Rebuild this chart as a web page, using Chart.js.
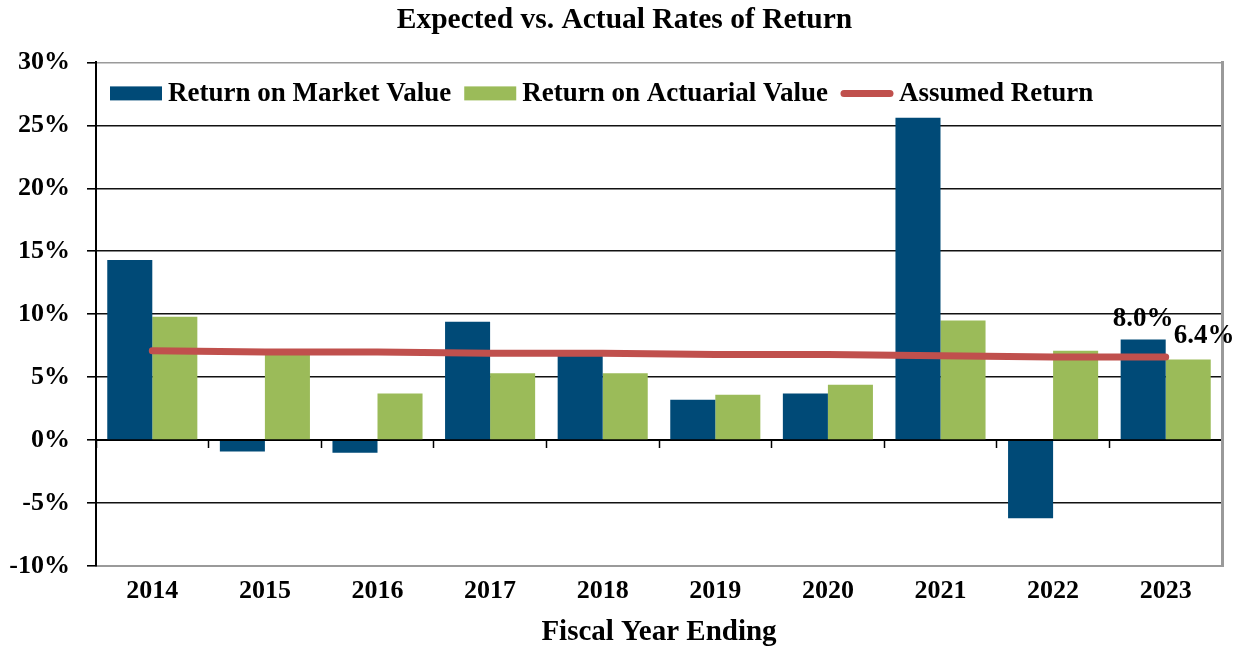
<!DOCTYPE html>
<html>
<head>
<meta charset="utf-8">
<script src="https://cdn.jsdelivr.net/npm/chart.js@4/dist/chart.umd.min.js"></script>
<style>
html,body{margin:0;padding:0;background:#fff;}
#wrap{width:1244px;height:650px;}
</style>
</head>
<body>
<div id="wrap"><canvas id="c" width="1244" height="650"></canvas></div>
<script>
const categories = ['2014','2015','2016','2017','2018','2019','2020','2021','2022','2023'];
const marketValue = [14.3, -0.9, -1.0, 9.4, 6.9, 3.2, 3.7, 25.6, -6.2, 8.0];
const actuarialValue = [9.8, 6.9, 3.7, 5.3, 5.3, 3.6, 4.4, 9.5, 7.1, 6.4];
const assumedReturn = [7.1, 7.0, 7.0, 6.9, 6.9, 6.8, 6.8, 6.7, 6.6, 6.6];
const yTicks = [-10, -5, 0, 5, 10, 15, 20, 25, 30];
const labelSeries = ['8.0%', '6.4%'];

const FONT = '"Liberation Serif", "Times New Roman", serif';
const BLUE = '#004A77';
const GREEN = '#9BBB59';
const RED = '#C0504D';

const endLabels = {
  id: 'endLabels',
  afterDatasetsDraw(chart) {
    const ctx = chart.ctx;
    ctx.save();
    ctx.font = 'bold 27px ' + FONT;
    ctx.fillStyle = '#000';
    ctx.textAlign = 'center';
    ctx.textBaseline = 'alphabetic';
    const last = categories.length - 1;
    const b0 = chart.getDatasetMeta(0).data[last];
    const b1 = chart.getDatasetMeta(1).data[last];
    ctx.fillText(labelSeries[0], b0.x, b0.y - 13);
    ctx.fillText(labelSeries[1], b1.x + 16, b1.y - 17);
    ctx.restore();
  }
};

const insideLegend = {
  id: 'insideLegend',
  afterDraw(chart) {
    const ctx = chart.ctx;
    const area = chart.chartArea;
    ctx.save();
    ctx.font = 'bold 27px ' + FONT;
    ctx.textBaseline = 'middle';
    ctx.textAlign = 'left';
    let x = area.left + 14;
    const y = area.top + 31;
    chart.data.datasets.forEach((ds) => {
      if (ds.type === 'line') {
        ctx.strokeStyle = ds.borderColor;
        ctx.lineWidth = 7;
        ctx.lineCap = 'round';
        ctx.beginPath();
        ctx.moveTo(x + 3, y);
        ctx.lineTo(x + 49, y);
        ctx.stroke();
      } else {
        ctx.fillStyle = ds.backgroundColor;
        ctx.fillRect(x, y - 7, 52, 14);
      }
      x += 58;
      ctx.fillStyle = '#000';
      ctx.fillText(ds.label, x, y + 1);
      x += ctx.measureText(ds.label).width + 13;
    });
    ctx.restore();
  }
};

new Chart(document.getElementById('c'), {
  data: {
    labels: categories,
    datasets: [
      { type: 'bar', label: 'Return on Market Value', data: marketValue, backgroundColor: BLUE, order: 1,
        categoryPercentage: 0.8, barPercentage: 1.0 },
      { type: 'bar', label: 'Return on Actuarial Value', data: actuarialValue, backgroundColor: GREEN, order: 1,
        categoryPercentage: 0.8, barPercentage: 1.0 },
      { type: 'line', label: 'Assumed Return', data: assumedReturn, borderColor: RED, backgroundColor: RED,
        borderWidth: 7, borderCapStyle: 'round', pointRadius: 0, order: -1, tension: 0 }
    ]
  },
  options: {
    responsive: false,
    animation: false,
    devicePixelRatio: 1,
    layout: { padding: { left: 5, right: 0, top: 0, bottom: 0 } },
    plugins: {
      tooltip: { enabled: false },
      legend: { display: false },
      title: {
        display: true,
        text: 'Expected vs. Actual Rates of Return',
        color: '#000',
        font: { family: FONT, size: 29.5, weight: 'bold' },
        padding: { top: 3, bottom: 24 }
      }
    },
    scales: {
      x: {
        type: 'category',
        position: 'bottom',
        afterFit(scale) { scale.height = 84; },
        grid: { display: false, drawOnChartArea: false, drawTicks: false },
        border: { display: true, color: '#9a9a9a', width: 2 },
        ticks: { color: '#000', font: { family: FONT, size: 26, weight: 'bold' }, padding: 10 },
        title: { display: true, text: 'Fiscal Year Ending', color: '#000',
          font: { family: FONT, size: 29, weight: 'bold' }, padding: { top: 9, bottom: 0 } }
      },
      x2: {
        type: 'category',
        position: { y: 0 },
        labels: categories,
        offset: true,
        grid: { offset: true, drawOnChartArea: false, drawTicks: true, tickLength: 7, color: '#000', tickWidth: 1.5 },
        border: { display: true, color: '#000', width: 2 },
        ticks: { display: false }
      },
      y: {
        min: -10, max: 30,
        afterFit(scale) { scale.width = 91; },
        afterBuildTicks(scale) { scale.ticks = yTicks.map(v => ({ value: v })); },
        grid: {
          color: ctx => (ctx.tick && (ctx.tick.value === -10 || ctx.tick.value === 30)) ? '#9a9a9a' : '#111',
          lineWidth: 1.6,
          tickLength: 9,
          tickColor: '#000'
        },
        border: { display: true, color: '#000', width: 2 },
        ticks: {
          color: '#000', padding: 17,
          font: { family: FONT, size: 26, weight: 'bold' },
          callback: v => v + '%'
        }
      },
      y2: {
        position: 'right',
        min: -10, max: 30,
        afterFit(scale) { scale.width = 22; },
        grid: { drawOnChartArea: false, drawTicks: false },
        border: { display: true, color: '#9a9a9a', width: 3 },
        ticks: { display: false }
      }
    }
  },
  plugins: [endLabels, insideLegend]
});
</script>
</body>
</html>
